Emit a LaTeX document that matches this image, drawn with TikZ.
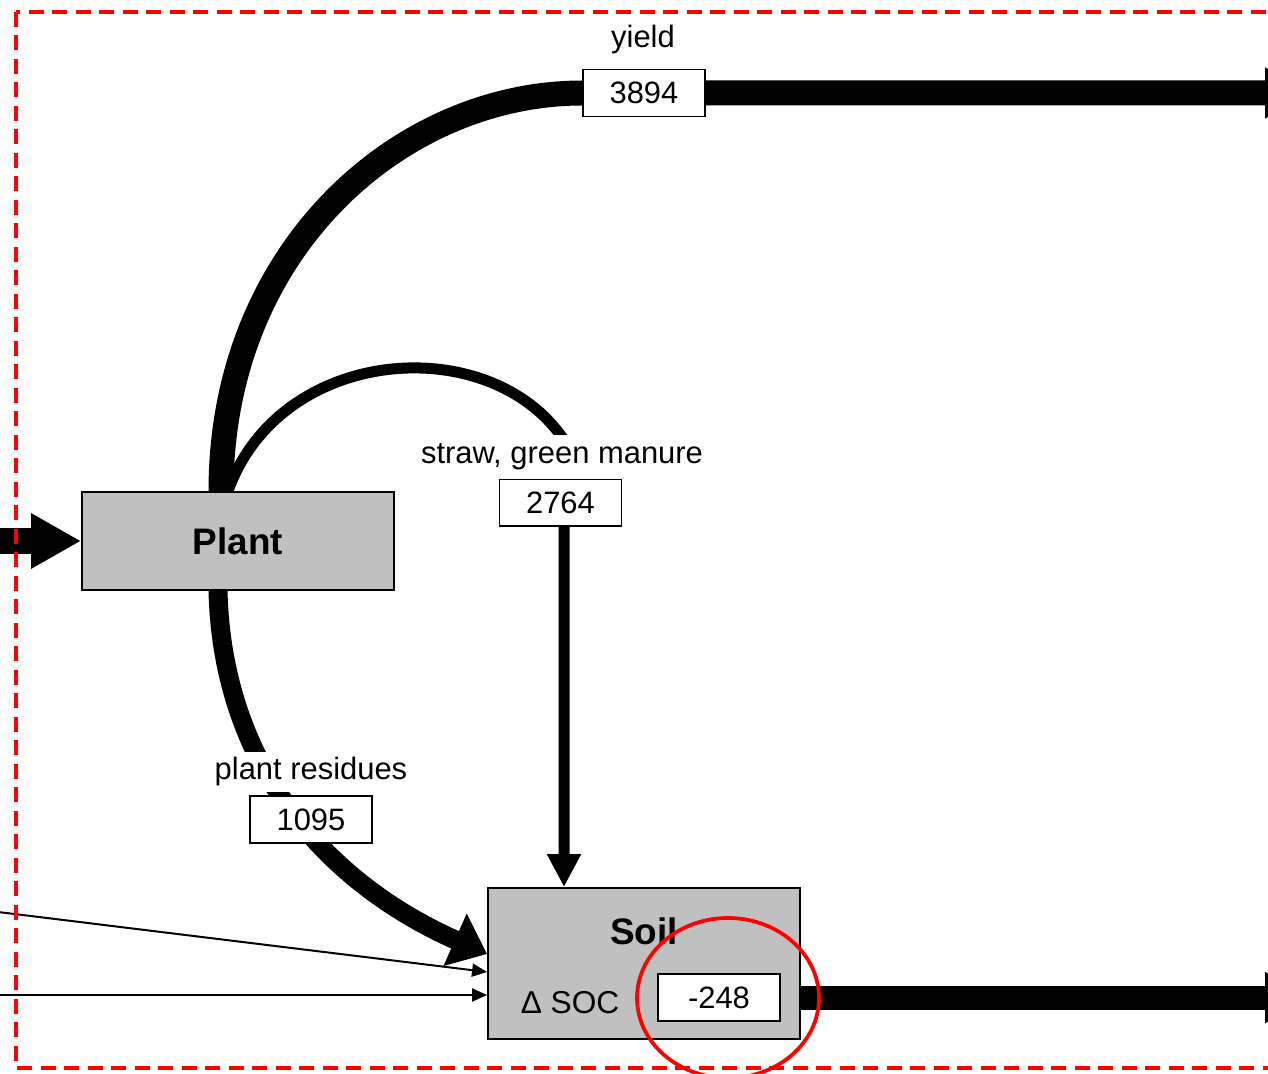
\documentclass[tikz,border=0pt]{standalone}
\usepackage{fontspec}
\setmainfont{Liberation Sans}
\usepackage{tikz}
\usetikzlibrary{arrows.meta,backgrounds}
\definecolor{poolgray}{RGB}{192,192,192}

\begin{document}
\begin{tikzpicture}[x=0.02cm,y=-0.02cm,
  pool/.style={draw,line width=1.1pt,fill=poolgray,inner sep=0pt},
  title/.style={font=\fontsize{21}{25}\selectfont\bfseries},
  valbox/.style={draw,line width=0.8pt,fill=white,minimum width=2.44cm,minimum height=0.94cm,inner sep=0pt,font=\fontsize{17.6}{21}\selectfont},
  lbl/.style={fill=white,inner xsep=2pt,inner ysep=3pt,font=\fontsize{17.6}{21}\selectfont},
  bigflow/.style={line width=0.48cm,-{Triangle[length=0.9cm,width=0.96cm]}},
  thinflow/.style={line width=0.04cm,-{Triangle[length=0.3cm,width=0.26cm]}}]
  \useasboundingbox (0,0) rectangle (1268,1074);
  % Pools
  \node[pool,minimum width=6.24cm,minimum height=1.96cm,title] (plant) at (238,541) {Plant};
  \node[pool,minimum width=6.24cm,minimum height=3.02cm] (soil) at (644,963.5) {};
  \node[title] (soiltitle) at (644,931) {Soil};
  \node[font=\fontsize{18}{21}\selectfont] (soc) at (570,1003) {Δ SOC};
  \node[valbox] (socv) at (719,997.5) {-248};
  % Flow values and labels
  \node[valbox] (yieldv) at (644,93) {3894};
  \node[lbl] (yieldl) at (643,40) {yield};
  \node[valbox] (strawv) at (560.5,502.5) {2764};
  \node[lbl,inner ysep=5pt] (strawl) at (562,457) {straw, green manure};
  \node[valbox] (resv) at (311,819.5) {1095};
  \node[lbl] (resl) at (311,772) {plant residues};
  % Loose ends
  \coordinate (cin) at (-10,541);
  \coordinate (yieldout) at (1310,93);
  \coordinate (soilout) at (1310,997.5);
  \coordinate (in1) at (-10,911);
  \coordinate (in2) at (-10,995);
  % Flows
  \begin{scope}[on background layer]
    \draw[line width=0.52cm,-{Triangle[length=1cm,width=1.04cm]}] (cin) -- (plant.west);
    \draw[bigflow,line width=0.5cm] ([xshift=-0.34cm]plant.north) .. controls (221,250) and (400,93) .. (yieldv.west) -- (yieldout);
    \draw[line width=0.22cm,-{Triangle[length=0.66cm,width=0.64cm]}] ([xshift=-0.2cm]plant.north) .. controls (280,345) and (490,330) .. (564,440) -- ([xshift=0.07cm]strawv.center) -- ([xshift=0.07cm]strawv.center |- soil.north);
    \draw[line width=0.38cm,-{Triangle[length=0.7cm,width=1.1cm]}] ([xshift=-0.4cm]plant.south) .. controls (222,760) and (320,880) .. ([yshift=0.19cm]soil.west);
    \draw[thinflow] (in1) -- ([yshift=-0.17cm]soil.west);
    \draw[thinflow] (in2) -- (in2 -| soil.west);
    \draw[bigflow] (socv.east) -- (soilout);
  \end{scope}
  % System boundary and mark
  \draw[red,line width=0.075cm,dash pattern=on 0.3cm off 0.17cm] (16,12) rectangle (1300,1068);
  \draw[red,line width=0.075cm] (728,998) ellipse [x radius=1.82cm,y radius=1.6cm];
\end{tikzpicture}
\end{document}
